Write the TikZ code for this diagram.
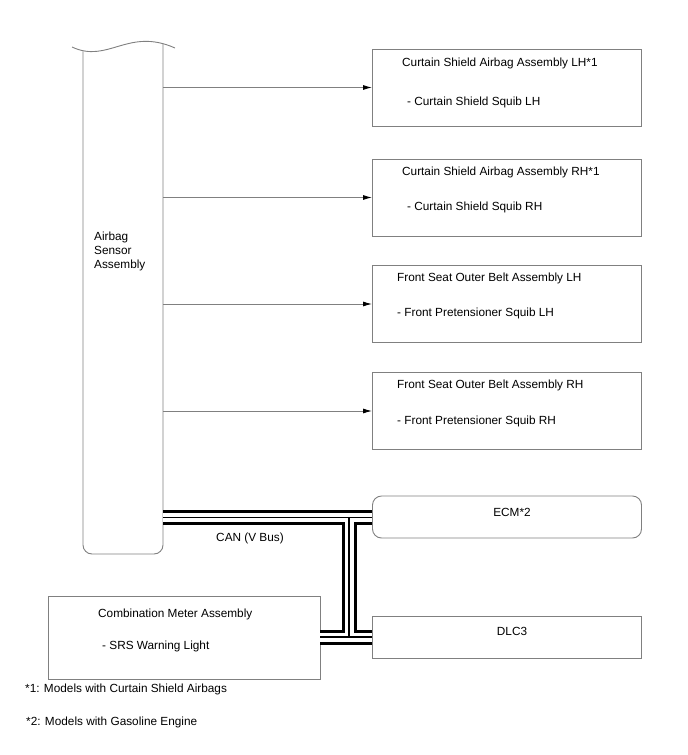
\documentclass[tikz,border=0pt]{standalone}
\usepackage{fontspec}
\setmainfont{Liberation Sans}
\usetikzlibrary{arrows.meta}
\definecolor{edgegray}{RGB}{128,128,128}
\tikzset{
  box/.style={draw=edgegray, line width=0.9pt, rectangle, inner sep=0pt},
  rbox/.style={box, rounded corners=9pt},
  lbl/.style={anchor=west, inner sep=0pt, font=\fontsize{11.8}{14}\selectfont},
  clbl/.style={inner sep=0pt, font=\fontsize{11.8}{14}\selectfont},
  arr/.style={draw=edgegray, line width=0.9pt, -{Latex[length=9pt,width=5pt,fill=black,color=black]}},
  outline/.style={draw=edgegray, line width=0.9pt},
  busout/.style={line width=15pt, black, line cap=butt},
  busin/.style={line width=9pt, white, line cap=butt},
  buscore/.style={line width=1.1pt, black, line cap=butt},
}
\begin{document}
\begin{tikzpicture}[x=1pt,y=-1pt]
\useasboundingbox (0,0) rectangle (688,755);
% Airbag sensor assembly (outline drawn separately)
\node[minimum width=80pt, minimum height=505pt, inner sep=0pt] (sensor) at (123,301.5) {};
\draw[outline] (72,47) .. controls (108,64) and (128,27) .. (175,48);
\draw[outline, rounded corners=9pt] (83,51.3) -- (83,554) -- (163,554) -- (163,43.8);
\node[lbl, align=left] (sensortxt) at (94,251) {Airbag\\Sensor\\Assembly};

% Right boxes
\node[box, minimum width=269pt, minimum height=77pt] (cs1) at (507,87.5) {};
\node[box, minimum width=269pt, minimum height=77pt] (cs2) at (507,197.5) {};
\node[box, minimum width=269pt, minimum height=77pt] (fs1) at (507,304) {};
\node[box, minimum width=269pt, minimum height=77pt] (fs2) at (507,411) {};
\node[rbox, minimum width=269pt, minimum height=42pt] (ecm) at (507,517) {};
\node[box, minimum width=269pt, minimum height=42pt] (dlc) at (507,637) {};
\node[box, minimum width=272pt, minimum height=83pt] (meter) at (184,637.5) {};

% Texts
\node[lbl] (cs1t) at (402,63) {Curtain Shield Airbag Assembly LH*1};
\node[lbl] (cs1s) at (407,102) {- Curtain Shield Squib LH};
\node[lbl] (cs2t) at (402,172) {Curtain Shield Airbag Assembly RH*1};
\node[lbl] (cs2s) at (407,207) {- Curtain Shield Squib RH};
\node[lbl] (fs1t) at (397,278) {Front Seat Outer Belt Assembly LH};
\node[lbl] (fs1s) at (397,313) {- Front Pretensioner Squib LH};
\node[lbl] (fs2t) at (397,385) {Front Seat Outer Belt Assembly RH};
\node[lbl] (fs2s) at (397,421) {- Front Pretensioner Squib RH};
\node[clbl] (ecmt) at (512,512) {ECM*2};
\node[clbl] (dlct) at (512,631) {DLC3};
\node[lbl] (mt) at (98,614) {Combination Meter Assembly};
\node[lbl] (ms) at (102,646) {- SRS Warning Light};
\node[clbl] (can) at (250,538) {CAN (V Bus)};
\node[lbl] (fn1) at (25,689) {*1: Models with Curtain Shield Airbags};
\node[lbl] (fn2) at (26,722) {*2: Models with Gasoline Engine};

% Arrows
\draw[arr] (sensor.east |- cs1.west) -- (cs1.west);
\draw[arr] (sensor.east |- cs2.west) -- (cs2.west);
\draw[arr] (sensor.east |- fs1.west) -- (fs1.west);
\draw[arr] (sensor.east |- fs2.west) -- (fs2.west);

% CAN bus
\coordinate (j1) at (349,517.5);
\coordinate (j2) at (349,637);
\foreach \st in {busout,busin,buscore}{
  \draw[\st] (sensor.east |- j1) -- (ecm.west |- j1);
  \draw[\st] (j1) -- (j2);
  \draw[\st] (meter.east |- j2) -- (dlc.west |- j2);
}
\end{tikzpicture}
\end{document}
